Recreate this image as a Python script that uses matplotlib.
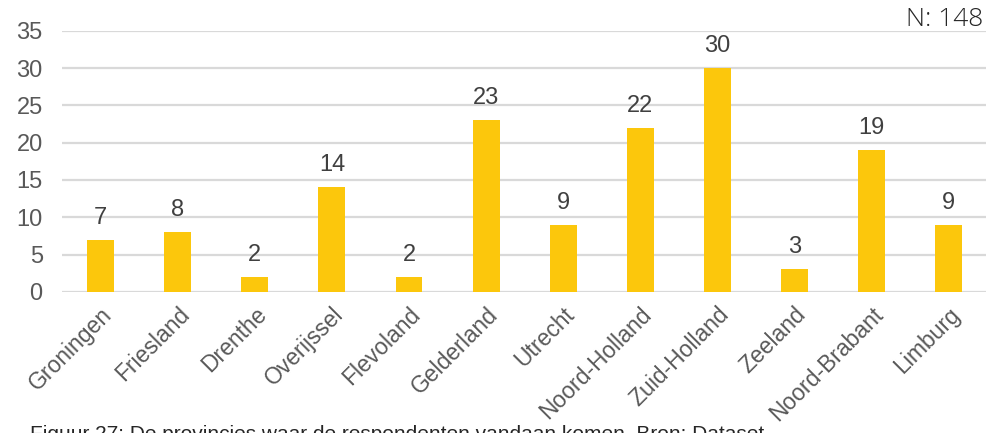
import matplotlib.pyplot as plt
import numpy as np

# Aantal respondenten per provincie
provincies = ['Groningen', 'Friesland', 'Drenthe', 'Overijssel', 'Flevoland', 'Gelderland',
              'Utrecht', 'Noord-Holland', 'Zuid-Holland', 'Zeeland', 'Noord-Brabant', 'Limburg']
aantallen = [7, 8, 2, 14, 2, 23, 9, 22, 30, 3, 19, 9]
n_totaal = 148

grijs = '#595959'
geel = '#FCC70C'

plt.rcParams['font.family'] = ['Liberation Sans', 'DejaVu Sans']

fig = plt.figure(figsize=(9.87, 4.33), dpi=100)
ax = fig.add_axes([0.063, 0.326, 0.937, 0.603])

x = np.arange(len(provincies))
ax.bar(x, aantallen, width=0.35, color=geel, zorder=3)

for xi, v in zip(x, aantallen):
    ax.annotate(str(v), (xi, v), xytext=(0, 8), textcoords='offset points',
                ha='center', va='bottom', fontsize=17, color='#404040')

ax.set_xlim(-0.5, len(provincies) - 0.5)
ax.set_ylim(0, 35)
ax.set_yticks(range(0, 36, 5))
ax.yaxis.grid(True, color='#D9D9D9', linewidth=1.6, zorder=0)
ax.set_axisbelow(True)

ax.set_xticks(x)
ax.set_xticklabels(provincies, rotation=45, ha='right', rotation_mode='anchor')
ax.tick_params(axis='both', length=0, labelcolor=grijs)
ax.tick_params(axis='y', pad=14, labelsize=17)
ax.tick_params(axis='x', pad=8, labelsize=16.5)
for s in ax.spines.values():
    s.set_visible(False)

fig.text(0.996, 0.955, f'N: {n_totaal}', ha='right', va='center', fontsize=19,
         family=['Open Sans', 'DejaVu Sans'], fontweight='light', color='#262626')

# bijschrift valt grotendeels buiten beeld, zoals in het origineel
fig.text(0.03, 0.018, 'Figuur 27: De provincies waar de respondenten vandaan komen. Bron: Dataset',
         ha='left', va='top', fontsize=15, color='#262626', zorder=0)

plt.savefig('out.png', dpi=100)
